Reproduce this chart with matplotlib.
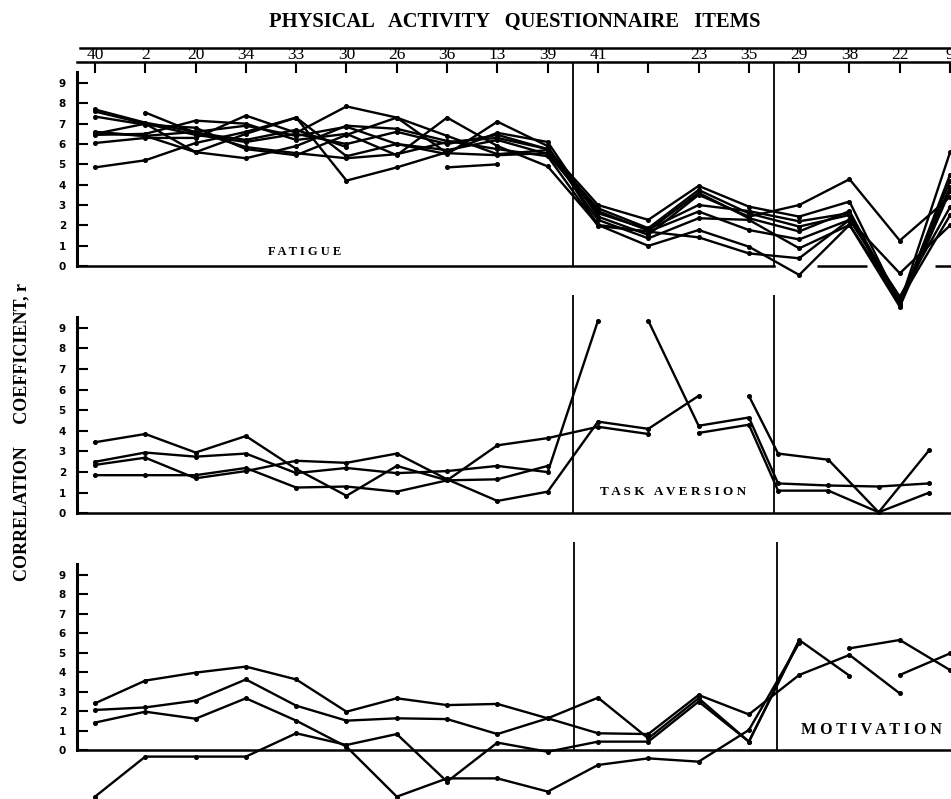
import numpy as np
import matplotlib
matplotlib.use("Agg")
import matplotlib.pyplot as plt
from matplotlib.lines import Line2D

nan = np.nan

# ---------------- data ----------------
ITEMS = ['40', '2', '20', '34', '33', '30', '26', '36', '13', '39',
         '41', '', '23', '35', '29', '38', '22', '9']
Y_TICKS = list(range(10))

# FATIGUE panel
fat_a = [7.70, 7.05, 6.60, 5.85, 5.55, 5.30, 5.50, 6.10, 6.30, 5.75, 3.00, 2.27, 3.94, 2.92, 2.43, 3.17, -1.85, 5.60]
fat_b = [7.35, 6.95, 6.80, 5.75, 5.45, 6.45, 7.30, 5.55, 5.45, 5.55, 2.84, 1.86, 3.74, 2.59, 1.94, 2.51, -1.95, 4.50]
fat_c = [6.60, 6.40, 5.60, 6.50, 7.30, 4.20, 4.85, 5.60, 6.55, 6.10, 2.43, 1.53, 3.50, 2.43, 3.00, 4.27, 1.25, 3.40]
fat_d = [6.45, 6.50, 7.15, 7.00, 6.20, 6.50, 5.45, 7.30, 5.90, 4.90, 2.02, 1.69, 2.68, 1.77, 1.31, 2.27, -1.51, 2.90]
fat_e = [6.05, 6.30, 6.30, 7.40, 6.55, 7.85, 7.30, 6.40, 5.50, 5.70, 2.27, 1.36, 2.35, 2.27, 0.87, 2.02, -2.00, 3.70]
fat_f = [4.85, 5.20, 6.05, 6.60, 7.30, 5.40, 6.00, 5.50, 7.10, 5.90, 2.02, 0.99, 1.77, 0.95, -0.44, 2.02, -1.70, 2.50]
fat_g = [6.50, 7.00, 5.60, 5.30, 5.90, 6.90, 6.75, 6.15, 5.75, 5.40, 1.97, 1.69, 1.41, 0.62, 0.38, 2.27, -0.36, 2.00]
fat_h = [nan, 7.55, 6.55, 6.20, 6.70, 5.85, nan, nan, nan, nan, nan, nan, nan, nan, nan, nan, nan, nan]
fat_i = [nan, nan, nan, nan, nan, nan, nan, 4.85, 5.00, nan, nan, nan, nan, nan, nan, nan, nan, nan]
fat_j = [6.55, 6.40, 6.60, 6.90, 6.40, 6.85, 6.00, 5.70, 6.20, 5.50, 2.60, 1.80, 3.00, 2.70, 2.20, 2.60, -1.80, 4.20]
fat_k = [7.60, 7.00, 6.45, 6.10, 6.50, 6.00, 6.60, 6.00, 6.45, 5.75, 2.70, 1.75, 3.60, 2.35, 1.70, 2.70, -1.90, 3.90]
FATIGUE = [fat_a, fat_b, fat_c, fat_d, fat_e, fat_f, fat_g, fat_h, fat_i, fat_j, fat_k]

# TASK AVERSION panel
ta_a = [3.45, 3.85, 2.95, 3.75, 2.15, 0.85, 2.30, 1.60, 3.30, 3.65, 4.20, 3.85, nan, nan, nan, nan, nan, nan]
ta_b = [2.50, 2.95, 2.75, 2.90, 1.95, 2.20, 1.95, 2.05, 2.30, 2.00, 9.35, nan, nan, nan, nan, nan, nan, nan]
ta_c = [2.35, 2.70, 1.70, 2.05, 2.55, 2.45, 2.90, 1.65, 0.60, 1.05, 4.45, 4.10, 5.70, nan, nan, nan, nan, nan]
ta_d = [1.85, 1.85, 1.85, 2.20, 1.25, 1.30, 1.05, 1.60, 1.65, 2.30, nan, nan, nan, nan, nan, nan, nan, nan]
ta_e = [nan, nan, nan, nan, nan, nan, nan, nan, nan, nan, nan, 9.35, 4.25, 4.65, 1.45, 1.35, 1.30, 1.45]
ta_f = [nan, nan, nan, nan, nan, nan, nan, nan, nan, nan, nan, nan, 3.90, 4.30, 1.10, 1.10, 0.05, 1.00]
ta_g = [nan, nan, nan, nan, nan, nan, nan, nan, nan, nan, nan, nan, nan, 5.70, 2.90, 2.60, 0.05, 3.05]
TASK_AVERSION = [ta_a, ta_b, ta_c, ta_d, ta_e, ta_f, ta_g]

# MOTIVATION panel
mo_a = [2.40, 3.57, 3.98, 4.29, 3.63, 1.97, 2.66, 2.31, 2.37, 1.63, 0.86, 0.82, 2.83, 1.83, 3.86, 4.89, 2.91, nan]
mo_b = [2.06, 2.19, 2.54, 3.63, 2.28, 1.51, 1.63, 1.59, 0.82, 1.63, 2.69, 0.60, 2.66, 0.43, 5.66, 3.82, nan, nan]
mo_c = [1.41, 1.97, 1.61, 2.66, 1.51, 0.17, -2.40, -1.46, -1.46, -2.14, -0.77, -0.43, -0.60, 1.03, 5.50, nan, nan, nan]
mo_d = [-2.40, -0.34, -0.34, -0.34, 0.86, 0.26, 0.82, -1.63, 0.38, -0.09, 0.43, 0.43, 2.49, 0.43, 5.60, nan, nan, nan]
mo_e = [nan, nan, nan, nan, nan, nan, nan, nan, nan, nan, nan, nan, nan, nan, nan, 5.23, 5.66, 4.11]
mo_f = [nan, nan, nan, nan, nan, nan, nan, nan, nan, nan, nan, nan, nan, nan, nan, nan, 3.86, 4.97]
MOTIVATION = [mo_a, mo_b, mo_c, mo_d, mo_e, mo_f]

# ---------------- layout ----------------
W, H = 951, 799
fig = plt.figure(figsize=(W / 100, H / 100), dpi=100)
fig.patch.set_facecolor("white")

X0_PX, X1_PX = 77, 951
FIRST_PX, STEP_PX = 95, 50.3
XLIM = ((X0_PX - FIRST_PX) / STEP_PX, (X1_PX - FIRST_PX) / STEP_PX)
idx = np.arange(len(ITEMS), dtype=float)
SERIF = "Liberation Serif"


def make_axes(top_px, bot_px, zero_px, unit_px):
    ax = fig.add_axes([X0_PX / W, 1 - bot_px / H, (X1_PX - X0_PX) / W, (bot_px - top_px) / H])
    ax.set_xlim(*XLIM)
    ax.set_ylim((zero_px - bot_px) / unit_px, (zero_px - top_px) / unit_px)
    ax.patch.set_visible(False)
    ax.spines["top"].set_visible(False)
    ax.spines["right"].set_visible(False)
    ax.spines["left"].set_bounds(0, 9.55)
    ax.spines["left"].set_linewidth(2.2)
    ax.spines["bottom"].set_position(("data", 0))
    ax.spines["bottom"].set_linewidth(1.8)
    ax.set_yticks(Y_TICKS)
    ax.set_yticklabels([str(t) for t in Y_TICKS], fontweight="bold")
    ax.tick_params(axis="y", direction="in", length=8, width=1.5, pad=8, labelsize=7.5)
    ax.set_xticks([])
    return ax


def draw(ax, series, xs, clip=True):
    for s in series:
        ax.plot(xs, s, "-o", color="black", lw=1.7, ms=2.6, clip_on=clip,
                solid_joinstyle="miter")


# top panel
ax1 = make_axes(62, 322, 266, 20.33)
ax1.spines["top"].set_visible(True)
ax1.spines["top"].set_linewidth(1.8)
ax1.spines["bottom"].set_bounds(XLIM[0], 13.5)
ax1.hlines(0, 14.35, 15.35, color="black", lw=1.8)
ax1.hlines(0, 16.7, XLIM[1], color="black", lw=1.8)
ax1.xaxis.set_ticks_position("top")
ax1.set_xticks(idx)
ax1.set_xticklabels(ITEMS, fontfamily=SERIF)
ax1.tick_params(axis="x", direction="in", length=8, width=1.5, pad=-1,
                labelsize=12.5, top=True, bottom=False, labeltop=True, labelbottom=False)
ax1.vlines([9.5, 13.5], 0, ax1.get_ylim()[1], color="black", lw=1.3)
draw(ax1, FATIGUE, idx)
ax1.text(4.16, 0.69, "F A T I G U E", ha="center", va="center",
         fontfamily=SERIF, fontweight="bold", fontsize=9)

# middle panel (right section of the original was pasted ~0.4 item to the left)
ax2 = make_axes(288, 528, 513.3, 20.6)
ax2.vlines([9.5, 13.5], 0, 10.6, color="black", lw=1.3)
ta_x = np.where(idx >= 14, idx - 0.42, idx)
draw(ax2, TASK_AVERSION, ta_x)
ax2.text(11.5, 1.03, "T A S K   A V E R S I O N", ha="center", va="center",
         fontfamily=SERIF, fontweight="bold", fontsize=9.5)

# bottom panel
ax3 = make_axes(532, 799, 750, 19.44)
ax3.vlines([9.52, 13.55], 0, 10.7, color="black", lw=1.3)
draw(ax3, MOTIVATION, idx)
ax3.text(15.43, 1.03, "M O T I V A T I O N", ha="center", va="center",
         fontfamily=SERIF, fontweight="bold", fontsize=11.5)

# header upper rule
fig.add_artist(Line2D([80 / W, 1.0], [1 - 47.5 / H] * 2, color="black", lw=1.8))

fig.text(515 / W, 1 - 22 / H, "PHYSICAL   ACTIVITY   QUESTIONNAIRE   ITEMS",
         ha="center", va="center", fontfamily=SERIF, fontweight="bold", fontsize=14.8)
fig.text(22 / W, 1 - 432 / H, "CORRELATION     COEFFICIENT, r", rotation=90,
         ha="center", va="center", fontfamily=SERIF, fontweight="bold", fontsize=13)

fig.savefig("out.png", dpi=100, facecolor="white")
